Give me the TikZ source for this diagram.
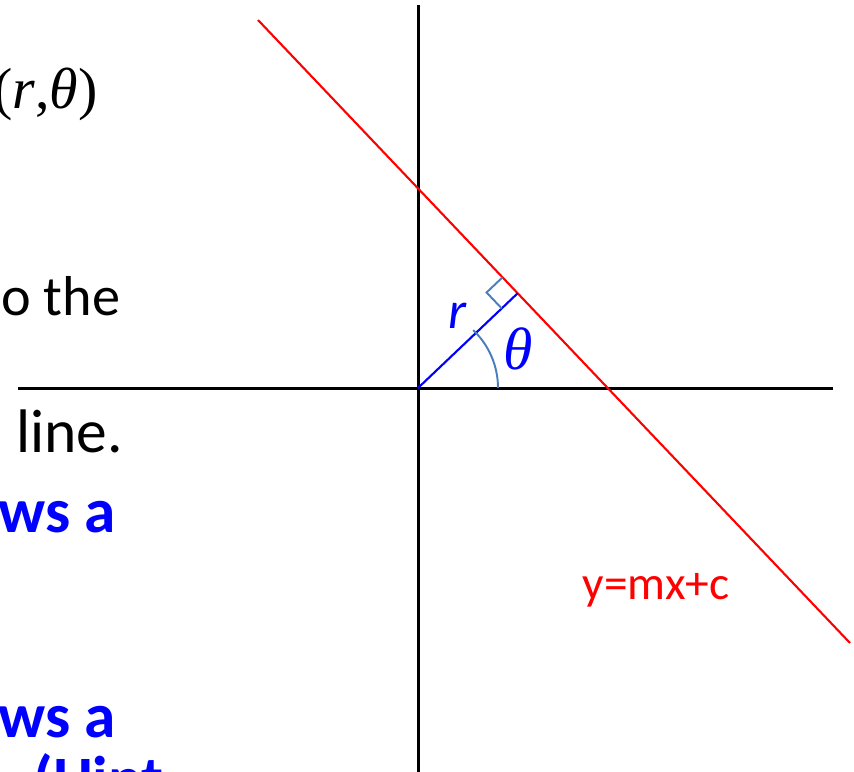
\documentclass[tikz,border=0pt]{standalone}
\usepackage{fontspec}
\setmainfont{Carlito}
\newfontfamily\symfont{Liberation Serif}
\usepackage{tikz}
\usetikzlibrary{positioning,calc}
\definecolor{arcblue}{RGB}{74,126,187}

\begin{document}
\begin{tikzpicture}[x=0.02cm, y=-0.02cm,
    axis/.style={black, line width=1.7pt},
    redline/.style={red, line width=1.2pt},
    perp/.style={blue, line width=1.2pt},
    anglemark/.style={arcblue, line width=1.1pt},
    bodytext/.style={anchor=base west, inner sep=0pt},
    bluetext/.style={bodytext, text=blue, font=\fontsize{36}{42}\selectfont\bfseries}]
    \useasboundingbox (0,0) rectangle (854,771);

    % axes
    \coordinate (xl) at (18,388);
    \coordinate (xr) at (833,388);
    \coordinate (yt) at (418,5);
    \coordinate (yb) at (418,780);
    \coordinate (O) at (418,388);
    \draw[axis] (xl) -- (xr);
    \draw[axis] (yt) -- (yb);

    % the line and its normal
    \coordinate (r1) at (258,20);
    \coordinate (r2) at (850,643);
    \coordinate (F) at ($(r1)!(O)!(r2)$);
    \draw[redline] (r1) -- (r2);
    \draw[perp] (O) -- (F);

    % right angle and angle marks
    \coordinate (m1) at ($(F)!0.44cm!(r1)$);
    \coordinate (m2) at ($(F)!0.44cm!(O)$);
    \coordinate (m3) at ($(m1)+(m2)-(F)$);
    \draw[anglemark] (m1) -- (m3) -- (m2);
    \draw[anglemark] (O) ++(80,0) arc[start angle=0, end angle=46.4, radius=1.6cm];

    \node[text=blue, font=\fontsize{30}{36}\selectfont\itshape] (r) at (458,316) {r};
    \node[text=blue, font=\fontsize{34}{40}\selectfont\symfont\itshape] (theta) at (518,349) {θ};
    \node[text=red, font=\fontsize{27}{32}\selectfont] (eq) at (656,590) {y=mx+c};

    % text cut off at the left
    \node[anchor=base east, inner sep=0pt, font=\fontsize{33}{39}\selectfont\symfont] (pt) at (98,108) {(\textit{r},\textit{θ})};
    \node[bodytext, font=\fontsize{32}{38}\selectfont] (t1) at (1,315) {o the};
    \node[bodytext, font=\fontsize{35}{41}\selectfont] (t2) at (16,452) {line.};
    \node[bluetext] (t3) at (-2,532) {ws a};
    \node[bluetext] (t4) at (-2,737) {ws a};
    \node[bluetext] (t5) at (33,800) {(Hint};
\end{tikzpicture}
\end{document}
